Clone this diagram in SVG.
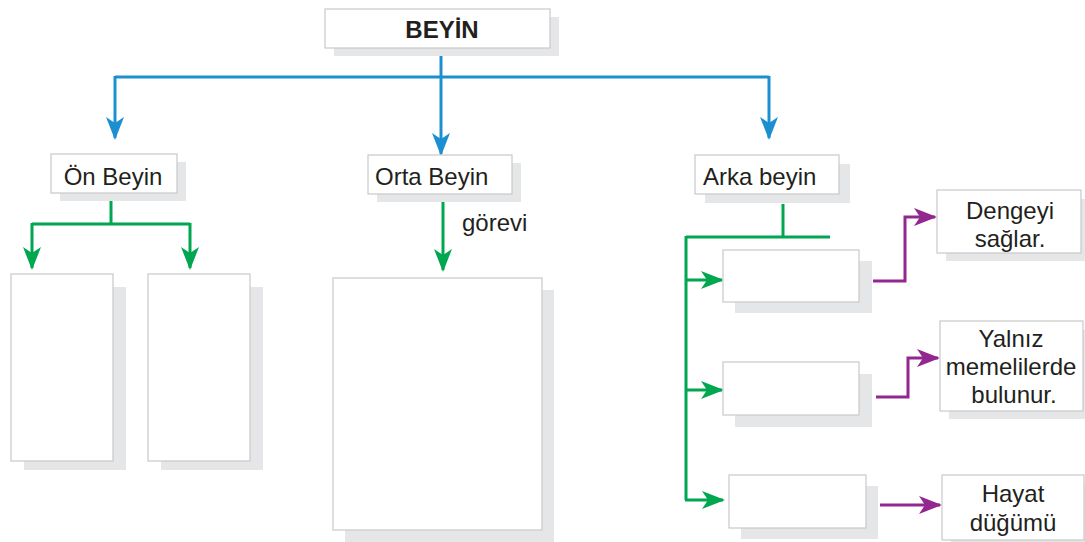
<svg xmlns="http://www.w3.org/2000/svg" width="1085" height="542" viewBox="0 0 1085 542">
  <style>
    .box { fill: #ffffff; stroke: #c9c9c9; stroke-width: 1.2; }
    .shadow { fill: #e5e6e7; }
    .t { font-family: "Liberation Sans", Arial, sans-serif; font-size: 24px; fill: #231f20; }
    .tc { text-anchor: middle; }
    .blue { stroke: #1c8fd1; stroke-width: 3; fill: none; }
    .green { stroke: #00a650; stroke-width: 3; fill: none; }
    .purple { stroke: #92278f; stroke-width: 3; fill: none; }
  </style>
  <defs>
    <marker id="arrBlue" markerUnits="userSpaceOnUse" viewBox="0 0 23 18" markerWidth="23" markerHeight="18" refX="21" refY="9" orient="auto">
      <path d="M0,0 L23,9 L0,18 L6,9 z" fill="#1c8fd1"/>
    </marker>
    <marker id="arrGreen" markerUnits="userSpaceOnUse" viewBox="0 0 23 18" markerWidth="23" markerHeight="18" refX="21" refY="9" orient="auto">
      <path d="M0,0 L23,9 L0,18 L6,9 z" fill="#00a650"/>
    </marker>
    <marker id="arrPurple" markerUnits="userSpaceOnUse" viewBox="0 0 23 18" markerWidth="23" markerHeight="18" refX="21" refY="9" orient="auto">
      <path d="M0,0 L23,9 L0,18 L6,9 z" fill="#92278f"/>
    </marker>
  </defs>

  <!-- connectors -->
  <g id="connectors">
    <path class="blue" d="M441,48 V77"/>
    <path class="blue" d="M115,77 H769"/>
    <path class="blue" d="M115,76 V138" marker-end="url(#arrBlue)"/>
    <path class="blue" d="M441,76 V154" marker-end="url(#arrBlue)"/>
    <path class="blue" d="M769,76 V138" marker-end="url(#arrBlue)"/>

    <path class="green" d="M111,194 V224"/>
    <path class="green" d="M32,224 H190"/>
    <path class="green" d="M32,223 V268" marker-end="url(#arrGreen)"/>
    <path class="green" d="M190,223 V268" marker-end="url(#arrGreen)"/>
    <path class="green" d="M443,201 V270" marker-end="url(#arrGreen)"/>

    <path class="green" d="M783,204 V237"/>
    <path class="green" d="M686,237 H830"/>
    <path class="green" d="M686,236 V500"/>
    <path class="green" d="M685,280 H722" marker-end="url(#arrGreen)"/>
    <path class="green" d="M685,390 H722" marker-end="url(#arrGreen)"/>
    <path class="green" d="M685,500 H723" marker-end="url(#arrGreen)"/>

    <path class="purple" d="M873,281 H905 V217 H935" marker-end="url(#arrPurple)"/>
    <path class="purple" d="M876,397 H908 V358 H938" marker-end="url(#arrPurple)"/>
    <path class="purple" d="M880,505 H940" marker-end="url(#arrPurple)"/>
  </g>

  <!-- top node -->
  <g id="beyin">
    <rect class="shadow" x="334" y="17" width="225" height="39"/>
    <rect class="box" x="325" y="9" width="225" height="39"/>
    <text class="t tc" x="442" y="38" font-weight="bold" font-size="22">BEYİN</text>
  </g>

  <!-- second level -->
  <g id="on-beyin">
    <rect class="shadow" x="60" y="162" width="126" height="39"/>
    <rect class="box" x="51" y="154" width="126" height="39"/>
    <text class="t tc" x="113" y="185">Ön Beyin</text>
  </g>
  <g id="orta-beyin">
    <rect class="shadow" x="377" y="163" width="144" height="39"/>
    <rect class="box" x="368" y="155" width="144" height="39"/>
    <text class="t" x="375" y="185">Orta Beyin</text>
    <text class="t" x="462" y="231" font-size="23">görevi</text>
  </g>
  <g id="arka-beyin">
    <rect class="shadow" x="705" y="164" width="145" height="39"/>
    <rect class="box" x="695" y="155" width="144" height="39"/>
    <text class="t" x="703" y="185">Arka beyin</text>
  </g>

  <!-- empty boxes under Ön Beyin -->
  <g id="on-1">
    <rect class="shadow" x="24" y="287" width="102" height="183"/>
    <rect class="box" x="11" y="274" width="102" height="187"/>
  </g>
  <g id="on-2">
    <rect class="shadow" x="161" y="287" width="102" height="183"/>
    <rect class="box" x="148" y="274" width="102" height="187"/>
  </g>

  <!-- empty box under Orta Beyin -->
  <g id="orta-1">
    <rect class="shadow" x="345" y="290" width="209" height="252"/>
    <rect class="box" x="333" y="278" width="209" height="252"/>
  </g>

  <!-- empty boxes under Arka beyin -->
  <g id="arka-1">
    <rect class="shadow" x="735" y="261" width="137" height="52"/>
    <rect class="box" x="723" y="250" width="136" height="52"/>
  </g>
  <g id="arka-2">
    <rect class="shadow" x="735" y="374" width="137" height="53"/>
    <rect class="box" x="723" y="362" width="136" height="53"/>
  </g>
  <g id="arka-3">
    <rect class="shadow" x="741" y="486" width="137" height="53"/>
    <rect class="box" x="729" y="475" width="137" height="53"/>
  </g>

  <!-- function labels -->
  <g id="dengeyi">
    <rect class="shadow" x="946" y="199" width="139" height="62"/>
    <rect class="box" x="937" y="190" width="144" height="63"/>
    <text class="t tc" x="1010" y="219">Dengeyi</text>
    <text class="t tc" x="1010" y="247">sağlar.</text>
  </g>
  <g id="yalniz">
    <rect class="shadow" x="949" y="330" width="136" height="89"/>
    <rect class="box" x="940" y="321" width="143" height="90"/>
    <text class="t tc" x="1011" y="347">Yalnız</text>
    <text class="t tc" x="1011" y="375">memelilerde</text>
    <text class="t tc" x="1014" y="403">bulunur.</text>
  </g>
  <g id="hayat">
    <rect class="shadow" x="951" y="484" width="134" height="58"/>
    <rect class="box" x="942" y="475" width="142" height="65"/>
    <text class="t tc" x="1013" y="502">Hayat</text>
    <text class="t tc" x="1013" y="531">düğümü</text>
  </g>
</svg>
